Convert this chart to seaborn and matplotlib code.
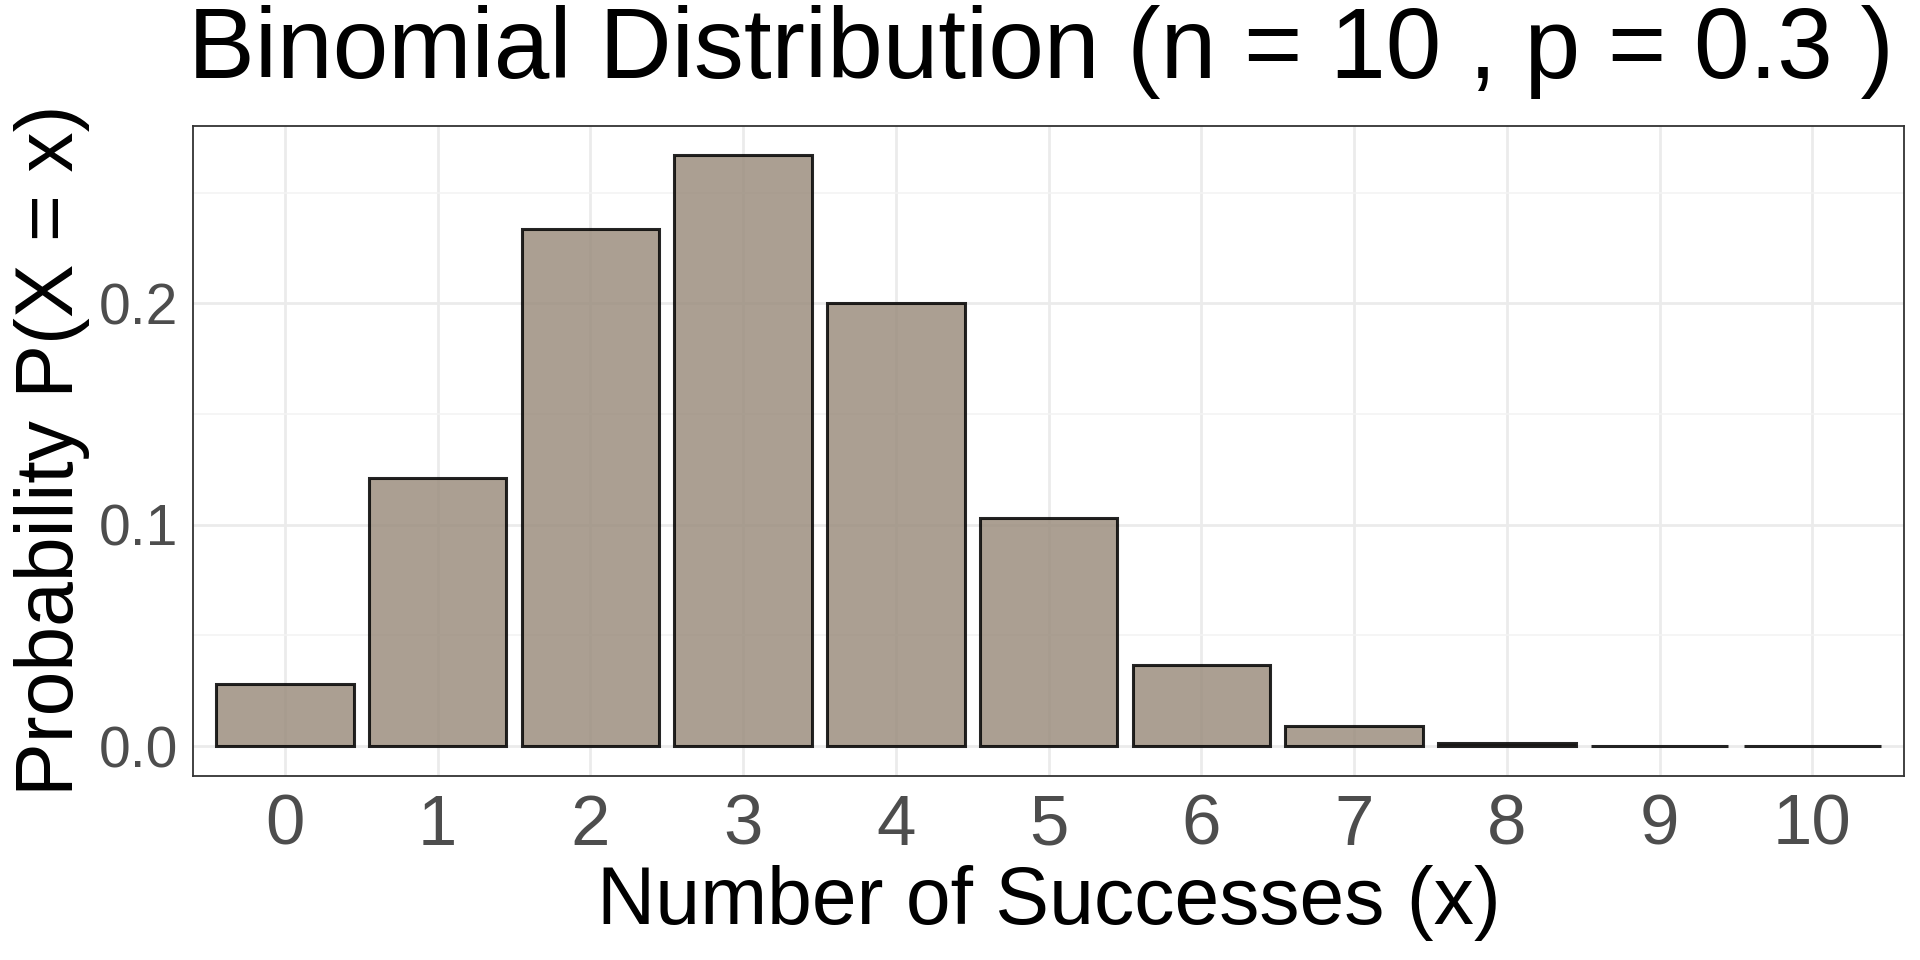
import matplotlib
matplotlib.use("Agg")
import matplotlib.pyplot as plt
import seaborn as sns
import pandas as pd
from matplotlib.ticker import MultipleLocator

successes = [0, 1, 2, 3, 4, 5, 6, 7, 8, 9, 10]
probabilities = [0.0282, 0.1211, 0.2335, 0.2668, 0.2001, 0.1029, 0.0368, 0.0090, 0.0014, 0.0001, 0.0000]
x_tick_labels = [str(s) for s in successes]
y_ticks = [0.0, 0.1, 0.2]
y_tick_labels = ["0.0", "0.1", "0.2"]

sns.set_theme(style="white")
plt.rcParams['font.family'] = ['Liberation Sans', 'DejaVu Sans']

df = pd.DataFrame({"x": pd.Categorical(x_tick_labels, categories=x_tick_labels), "p": probabilities})

fig = plt.figure(figsize=(19.2, 9.6), dpi=100)
ax = fig.add_axes([0.1007, 0.192, 0.891, 0.677])

sns.barplot(data=df, x="x", y="p", color="#9C8E7F", alpha=0.85, width=0.9,
            edgecolor="black", linewidth=2.2, saturation=1, ax=ax, zorder=3)

ax.set_xlim(-0.6, 10.6)
ax.set_ylim(-0.01334, 0.28014)
ax.yaxis.set_major_locator(MultipleLocator(0.1))
ax.yaxis.set_minor_locator(MultipleLocator(0.05))
ax.set_yticks(y_ticks)
ax.set_yticklabels(y_tick_labels)

ax.grid(True, which="major", color="#EBEBEB", linewidth=2.0, zorder=0)
ax.grid(True, which="minor", axis="y", color="#F3F3F3", linewidth=1.2, zorder=0)
ax.set_axisbelow(True)

for sp in ax.spines.values():
    sp.set_color("#333333")
    sp.set_linewidth(1.3)
    sp.set_visible(True)

ax.tick_params(axis="both", which="major", direction="out", length=7, width=1.3, color="#333333",
               labelcolor="#4D4D4D")
ax.tick_params(axis="x", labelsize=51, pad=6)
ax.tick_params(axis="y", labelsize=41, pad=4)
ax.tick_params(which="minor", length=0)

ax.set_xlabel("Number of Successes (x)", fontsize=58, color="black", labelpad=4)
ax.set_ylabel("Probability P(X = x)", fontsize=58, color="black", labelpad=6)
fig.text(0.5424, 0.995, "Binomial Distribution (n = 10 , p = 0.3 )", fontsize=72,
         ha="center", va="top", color="black")

fig.savefig("out.png", dpi=100, facecolor="white")
